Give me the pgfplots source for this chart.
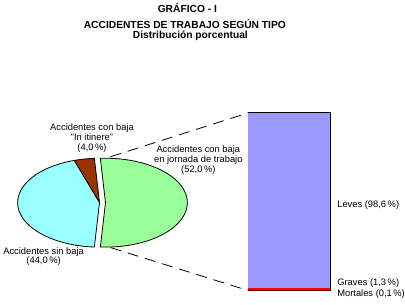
\documentclass[border=0pt]{standalone}
\usepackage{pgfplots}
\pgfplotsset{compat=1.18}
\usepackage{fontspec}
\setmainfont{Liberation Sans}
\definecolor{cgreen}{HTML}{99FF99}
\definecolor{ccyan}{HTML}{99FFFF}
\definecolor{cbrown}{HTML}{993300}
\definecolor{cblue}{HTML}{9999FF}
\definecolor{cred}{HTML}{FF0000}
\definecolor{cmort}{HTML}{660000}
% pie values (%)
\def\vJornada{52.0}
\def\vSin{44.0}
\def\vItinere{4.0}
\pgfmathsetmacro\aA{-1.8*\vJornada}
\pgfmathsetmacro\aB{1.8*\vJornada}
\pgfmathsetmacro\aC{\aB+3.6*\vItinere}
\pgfmathsetmacro\aD{\aC+3.6*\vSin}
\begin{document}
\begin{tikzpicture}
\begin{axis}[x=1bp,y=1bp,xmin=0,xmax=405,ymin=0,ymax=305,y dir=reverse,
  hide axis,clip=false]
\path (axis cs:0,0) rectangle (axis cs:405,305);
% pie slices
\filldraw[fill=cgreen,draw=black,line width=0.8bp] (axis cs:105,203) -- +(\aA:82bp and 44.5bp)
  arc[start angle=\aA,end angle=\aB,x radius=82bp,y radius=44.5bp] -- cycle;
\filldraw[fill=cbrown,draw=black,line width=0.8bp] (axis cs:99,203) -- +(\aB:82bp and 44.5bp)
  arc[start angle=\aB,end angle=\aC,x radius=82bp,y radius=44.5bp] -- cycle;
\filldraw[fill=ccyan,draw=black,line width=0.8bp] (axis cs:99,203) -- +(\aC:82bp and 44.5bp)
  arc[start angle=\aC,end angle=\aD,x radius=82bp,y radius=44.5bp] -- cycle;
% connector lines
\draw[line width=0.8bp,dash pattern=on 11bp off 7bp] (axis cs:110,157) -- (axis cs:248,113);
\draw[line width=0.8bp,dash pattern=on 11bp off 7bp] (axis cs:110,248) -- (axis cs:248,291);
% titles
\node[font=\bfseries\fontsize{10.3}{11}\selectfont,inner sep=0pt] at (axis cs:187,8.5) {GRÁFICO - I};
\node[font=\bfseries\fontsize{10.3}{10}\selectfont,inner sep=0pt,align=center] at (axis cs:184.5,30.5)
  {ACCIDENTES DE TRABAJO SEGÚN TIPO\\\hspace*{11bp}Distribución porcentual};
% labels
\node[font=\fontsize{9.4}{10}\selectfont,align=center] at (axis cs:91.5,138.5)
  {Accidentes con baja\\"In itinere"\\(4,0\,\%)};
\node[font=\fontsize{9.4}{10}\selectfont,align=center] at (axis cs:198,160)
  {Accidentes con baja\\en jornada de trabajo\\(52,0\,\%)};
\node[font=\fontsize{9.4}{10}\selectfont,align=center] at (axis cs:43,257)
  {Accidentes sin baja\\(44,0\,\%)};
\node[font=\fontsize{9.4}{10}\selectfont,anchor=west,inner sep=0pt] at (axis cs:337,205) {Leves (98,6\,\%)};
\node[font=\fontsize{9.4}{10}\selectfont,anchor=west,inner sep=0pt] at (axis cs:337,284) {Graves (1,3\,\%)};
\node[font=\fontsize{9.4}{10}\selectfont,anchor=west,inner sep=0pt] at (axis cs:337,295) {Mortales (0,1\,\%)};
\end{axis}
\begin{axis}[at={(248bp,14bp)},anchor=south west,scale only axis,
  width=82bp,height=178bp,xmin=-0.5,xmax=0.5,ymin=0,ymax=100,
  hide axis,ybar stacked,bar width=82bp,clip=false]
\addplot[fill=cmort,draw=none] coordinates {(0,0.1)};
\addplot[fill=cred,draw=none] coordinates {(0,1.3)};
\addplot[fill=cblue,draw=none] coordinates {(0,98.6)};
\draw[line width=0.8bp] (axis cs:-0.5,0) rectangle (axis cs:0.5,100);
\end{axis}
\end{tikzpicture}
\end{document}
